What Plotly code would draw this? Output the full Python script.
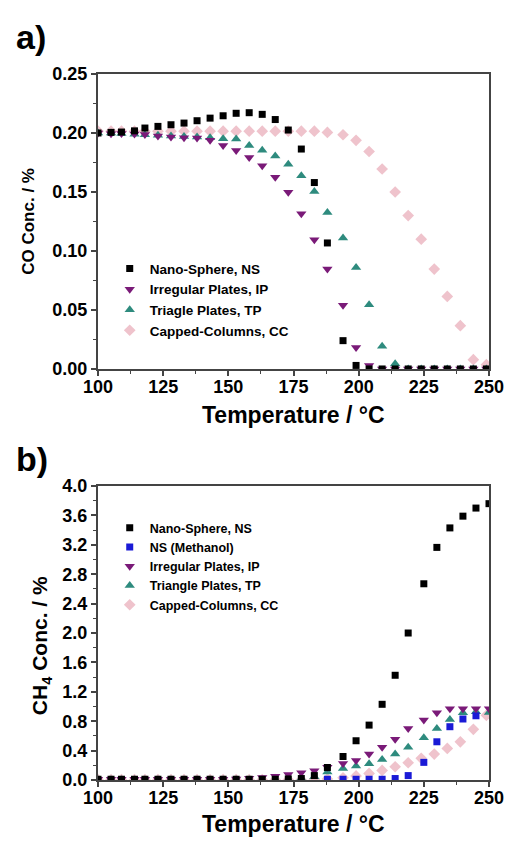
import plotly.graph_objects as go

# ---------------- data ----------------
T_CO = [100, 105, 109, 114, 118, 123, 128, 133, 138, 143, 148, 153, 158, 163, 168, 173,
        178, 183, 188, 194, 199, 204, 209, 214, 219, 224, 229, 234, 239, 244, 249]
T_CH4 = [100, 105, 109, 114, 118, 123, 128, 133, 138, 143, 148, 153, 158, 163, 168, 173,
         178, 183, 188, 194, 199, 204, 209, 214, 219, 225, 230, 235, 240, 245, 250]

CO_NS = [0.200, 0.2005, 0.2008, 0.2018, 0.2042, 0.2056, 0.207, 0.2084, 0.2104, 0.2126,
         0.2146, 0.2167, 0.2172, 0.2158, 0.2114, 0.2025, 0.1864, 0.158, 0.1068, 0.024,
         0.003, 0, 0, 0, 0, 0, 0, 0, 0, 0, 0]
CO_IP = [0.200, 0.1994, 0.1995, 0.1992, 0.1988, 0.1975, 0.1966, 0.1960, 0.1958, 0.1938,
         0.1895, 0.1852, 0.1792, 0.1722, 0.1624, 0.1498, 0.1316, 0.1095, 0.0847, 0.0539,
         0.0183, 0.003, 0, 0, 0, 0, 0, 0, 0, 0, 0]
CO_TP = [0.200, 0.200, 0.1995, 0.199, 0.1985, 0.198, 0.1975, 0.197, 0.1965, 0.196,
         0.1952, 0.195, 0.1893, 0.1853, 0.1806, 0.1736, 0.1638, 0.1505, 0.1327, 0.111,
         0.086, 0.0545, 0.0192, 0.0045, 0, 0, 0, 0, 0, 0, 0]
CO_CC = [0.2015, 0.2015, 0.2015, 0.2015, 0.2015, 0.2015, 0.2015, 0.2015, 0.2015, 0.2015,
         0.2015, 0.2015, 0.2015, 0.2015, 0.2015, 0.2015, 0.2015, 0.2015, 0.2005, 0.1985,
         0.1938, 0.1843, 0.1695, 0.150, 0.130, 0.110, 0.0847, 0.0615, 0.0367, 0.0079, 0.0036]

CH4_NS = [0.01, 0.01, 0.01, 0.01, 0.01, 0.01, 0.01, 0.01, 0.01, 0.01, 0.01, 0.01, 0.01,
          0.01, 0.01, 0.015, 0.02, 0.06, 0.17, 0.32, 0.534, 0.747, 1.03, 1.425, 2.0,
          2.67, 3.165, 3.43, 3.59, 3.70, 3.76]
CH4_NSM = [None, None, None, None, None, None, None, None, None, None, None, None, None,
           None, None, None, None, None, 0.01, 0.01, 0.01, 0.01, 0.01, 0.02, 0.06,
           0.24, 0.52, 0.725, 0.83, 0.874, None]
CH4_IP = [0.01, 0.01, 0.01, 0.01, 0.01, 0.01, 0.01, 0.01, 0.01, 0.01, 0.01, 0.015, 0.025,
          0.035, 0.05, 0.075, 0.10, 0.127, 0.175, 0.225, 0.265, 0.353, 0.444, 0.553, 0.702,
          0.815, 0.915, 0.97, 0.97, 0.97, 0.97]
CH4_TP = [0.005, 0.005, 0.005, 0.005, 0.005, 0.005, 0.005, 0.005, 0.005, 0.005, 0.005,
          0.005, 0.005, 0.005, 0.005, 0.01, 0.02, 0.045, 0.11, 0.155, 0.19, 0.22, 0.28,
          0.353, 0.444, 0.575, 0.702, 0.824, 0.915, 0.93, 0.92]
CH4_CC = [0.005, 0.005, 0.005, 0.005, 0.005, 0.005, 0.005, 0.005, 0.005, 0.005, 0.005,
          0.005, 0.005, 0.005, 0.005, 0.005, 0.005, 0.01, 0.015, 0.03, 0.055, 0.09, 0.13,
          0.18, 0.235, 0.295, 0.353, 0.43, 0.52, 0.69, 0.88]

X_TICKS = [100, 125, 150, 175, 200, 225, 250]
CO_TICKS = [0.00, 0.05, 0.10, 0.15, 0.20, 0.25]
CH4_TICKS = [0.0, 0.4, 0.8, 1.2, 1.6, 2.0, 2.4, 2.8, 3.2, 3.6, 4.0]

# ---------------- styling ----------------
BLACK = "#000000"
PURPLE = "#7a1a78"
TEAL = "#2e8b7e"
PINK = "#efc3cc"
BLUE = "#1a1ad6"
FONT = "Liberation Sans, Arial, sans-serif"
AXC = "#444444"

fig = go.Figure()

def add(x, y, name, color, symbol, size, xa, ya, leg, rank):
    fig.add_trace(go.Scatter(
        x=x, y=y, name=name, mode="markers", xaxis=xa, yaxis=ya, legend=leg,
        legendrank=rank,
        marker=dict(color=color, symbol=symbol, size=size, line=dict(width=0)),
    ))

# top panel (draw order: CC, TP, IP, NS)
add(T_CO, CO_CC, "Capped-Columns, CC", PINK, "diamond", 9, "x", "y", "legend", 4)
add(T_CO, CO_TP, "Triagle Plates, TP", TEAL, "triangle-up", 9, "x", "y", "legend", 3)
add(T_CO, CO_IP, "Irregular Plates, IP", PURPLE, "triangle-down", 9, "x", "y", "legend", 2)
add(T_CO, CO_NS, "Nano-Sphere, NS", BLACK, "square", 7, "x", "y", "legend", 1)

# bottom panel
add(T_CO, CH4_CC, "Capped-Columns, CC", PINK, "diamond", 9, "x2", "y2", "legend2", 5)
add(T_CH4, CH4_TP, "Triangle Plates, TP", TEAL, "triangle-up", 9, "x2", "y2", "legend2", 4)
add(T_CH4, CH4_NSM, "NS (Methanol)", BLUE, "square", 7, "x2", "y2", "legend2", 2)
add(T_CH4, CH4_IP, "Irregular Plates, IP", PURPLE, "triangle-down", 9, "x2", "y2", "legend2", 3)
add(T_CH4, CH4_NS, "Nano-Sphere, NS", BLACK, "square", 7, "x2", "y2", "legend2", 1)

tickfont = dict(family=FONT, size=18, color="black", weight="bold")

def xax(anchor):
    return dict(range=[100, 250], tickvals=X_TICKS, ticks="outside", ticklen=5,
                tickwidth=1.5, tickcolor=AXC, showline=True, mirror=True, linecolor=AXC,
                linewidth=2, showgrid=False, zeroline=False, tickfont=tickfont,
                ticklabelstandoff=-5,
                anchor=anchor, domain=[0, 1],
                minor=dict(ticks="outside", ticklen=3, tickwidth=1.2, tickcolor=AXC,
                           dtick=12.5, tick0=100, showgrid=False))

def yax(rng, ticks, fmt, minor, domain, anchor):
    return dict(range=rng, tickvals=ticks, tickformat=fmt, ticks="outside", ticklen=5,
                tickwidth=1.5, tickcolor=AXC, showline=True, mirror=True, linecolor=AXC,
                linewidth=2, showgrid=False, zeroline=False, tickfont=tickfont,
                domain=domain, anchor=anchor,
                minor=dict(ticks="outside", ticklen=3, tickwidth=1.2, tickcolor=AXC,
                           dtick=minor, tick0=0, showgrid=False))

# page body has an 8px margin, so the figure is 8px smaller than the window
fig.update_layout(
    width=508, height=834,
    margin=dict(l=90, r=19, t=66, b=62),
    paper_bgcolor="white", plot_bgcolor="white",
    xaxis=xax("y"),
    yaxis=yax([0, 0.25], CO_TICKS, ".2f", 0.025, [0.5822, 1.0], "x"),
    xaxis2=xax("y2"),
    yaxis2=yax([0, 4.0], CH4_TICKS, ".1f", 0.2, [0.0, 0.4164], "x2"),
    legend=dict(x=0.03, y=0.746, xanchor="left", yanchor="top",
                font=dict(family=FONT, size=13.5, color="black", weight="bold"),
                bgcolor="rgba(0,0,0,0)", borderwidth=0, traceorder="normal"),
    legend2=dict(x=0.03, y=0.378, xanchor="left", yanchor="top",
                 font=dict(family=FONT, size=12.5, color="black", weight="bold"),
                 bgcolor="rgba(0,0,0,0)", borderwidth=0, traceorder="normal"),
    showlegend=True,
)

ann = [
    dict(text="a)", x=-0.215, y=1.052, xanchor="left", yanchor="middle",
         font=dict(family=FONT, size=34, color="black", weight="bold")),
    dict(text="b)", x=-0.215, y=0.455, xanchor="left", yanchor="middle",
         font=dict(family=FONT, size=34, color="black", weight="bold")),
    dict(text="Temperature / °C", x=0.5, y=0.5165, xanchor="center", yanchor="middle",
         font=dict(family=FONT, size=23, color="black", weight="bold")),
    dict(text="Temperature / °C", x=0.5, y=-0.063, xanchor="center", yanchor="middle",
         font=dict(family=FONT, size=23, color="black", weight="bold")),
    dict(text="CO Conc. / %", x=-0.177, y=0.7918, xanchor="center", yanchor="middle",
         textangle=-90, font=dict(family=FONT, size=17, color="black", weight="bold")),
    dict(text="CH<sub>4</sub> Conc. / %", x=-0.145, y=0.19, xanchor="center",
         yanchor="middle", textangle=-90,
         font=dict(family=FONT, size=21, color="black", weight="bold")),
]
for a in ann:
    a.update(xref="paper", yref="paper", showarrow=False)
fig.update_layout(annotations=ann)

fig.write_html("out.html")
